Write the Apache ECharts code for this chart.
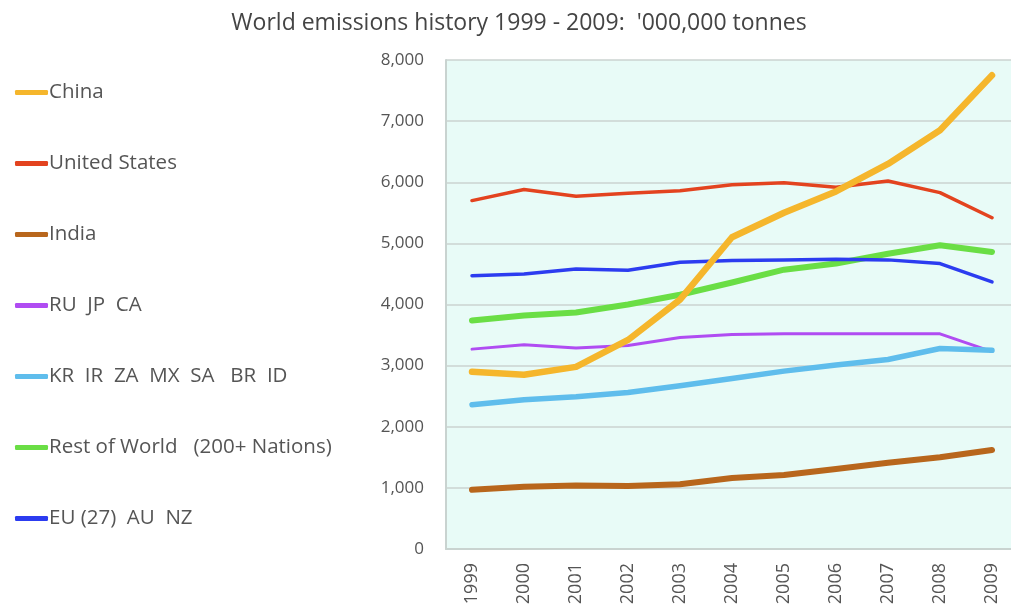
<!DOCTYPE html>
<html>
<head>
<meta charset="utf-8">
<script src="https://cdn.jsdelivr.net/npm/echarts@6/dist/echarts.min.js"></script>
<style>html,body{margin:0;padding:0;background:#fff;}#c{width:1011px;height:611px;}</style>
</head>
<body>
<div id="c"></div>
<script>
var years = ['1999','2000','2001','2002','2003','2004','2005','2006','2007','2008','2009'];
var china = [2900, 2850, 2980, 3420, 4080, 5100, 5500, 5850, 6300, 6850, 7750];
var unitedStates = [5700, 5880, 5770, 5820, 5860, 5960, 5990, 5920, 6020, 5830, 5420];
var india = [970, 1020, 1040, 1030, 1060, 1160, 1210, 1310, 1410, 1500, 1620];
var ruJpCa = [3270, 3340, 3290, 3330, 3460, 3510, 3520, 3520, 3520, 3520, 3230];
var krGroup = [2360, 2440, 2490, 2560, 2670, 2790, 2910, 3010, 3100, 3280, 3250];
var restOfWorld = [3740, 3820, 3870, 4000, 4160, 4360, 4570, 4670, 4830, 4970, 4860];
var euAuNz = [4470, 4500, 4580, 4560, 4690, 4720, 4730, 4740, 4730, 4670, 4370];

var font = 'Open Sans';
var chart = echarts.init(document.getElementById('c'));
function line(name, data, color, width) {
  return {
    name: name, type: 'line', data: data, symbol: 'none', smooth: false,
    xAxisIndex: 1, yAxisIndex: 1,
    lineStyle: { color: color, width: width, cap: 'round', join: 'round' },
    itemStyle: { color: color }
  };
}
chart.setOption({
  animation: false,
  title: {
    text: "World emissions history 1999 - 2009:  '000,000 tonnes",
    left: 514, top: 7, textAlign: 'center',
    textStyle: { fontFamily: font, fontSize: 23, fontWeight: 'normal', color: '#444' }
  },
  legend: {
    orient: 'vertical', left: 10, top: 77,
    itemWidth: 33, itemHeight: 5, itemGap: 50,
    icon: 'roundRect',
    textStyle: { fontFamily: font, fontSize: 20.5, lineHeight: 20, color: '#555', padding: [0, 0, 0, -4] },
    data: ['China', 'United States', 'India', 'RU  JP  CA', 'KR  IR  ZA  MX  SA   BR  ID', 'Rest of World   (200+ Nations)', 'EU (27)  AU  NZ']
  },
  grid: [
    { left: 446, top: 60, right: 0, bottom: 62, show: true, backgroundColor: '#e8fbf7', borderWidth: 0 },
    { left: 472, top: 60, right: 19, bottom: 62 }
  ],
  xAxis: [
    {
      gridIndex: 0, type: 'category', data: years, boundaryGap: true,
      axisLine: { show: true, lineStyle: { color: '#c9d3d0', width: 2 } },
      axisTick: { show: false }, axisLabel: { show: false }
    },
    {
      gridIndex: 1, type: 'category', data: years, boundaryGap: false,
      axisLine: { show: false }, axisTick: { show: false }, splitLine: { show: false },
      axisLabel: { rotate: 90, margin: 14, fontFamily: font, fontSize: 18, color: '#555' }
    }
  ],
  yAxis: [
    {
      gridIndex: 0, type: 'value', min: 0, max: 8000, interval: 1000,
      axisLine: { show: true, lineStyle: { color: '#c9d3d0', width: 2 } },
      axisTick: { show: false },
      splitLine: { lineStyle: { color: '#cbd3d0', width: 1.5 } },
      axisLabel: {
        margin: 22, fontFamily: font, fontSize: 17, color: '#555',
        formatter: function (v) { return v.toLocaleString('en-US'); }
      }
    },
    {
      gridIndex: 1, type: 'value', min: 0, max: 8000, interval: 1000,
      axisLine: { show: false }, axisTick: { show: false }, axisLabel: { show: false }, splitLine: { show: false }
    }
  ],
  series: [
    line('India', india, '#b8661c', 6),
    line('Rest of World   (200+ Nations)', restOfWorld, '#6ade45', 6),
    line('EU (27)  AU  NZ', euAuNz, '#2c3cf0', 3.5),
    line('RU  JP  CA', ruJpCa, '#b04cf2', 3),
    line('KR  IR  ZA  MX  SA   BR  ID', krGroup, '#5fbdec', 5.5),
    line('United States', unitedStates, '#e3431f', 3.5),
    line('China', china, '#f5b62c', 6.5)
  ]
});
</script>
</body>
</html>
